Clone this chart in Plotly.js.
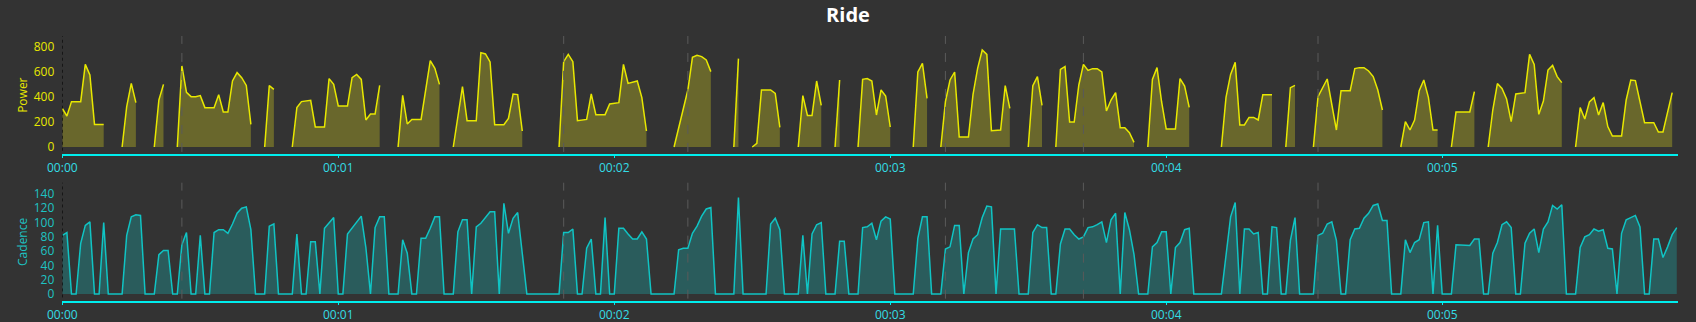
<!DOCTYPE html>
<html>
<head>
<meta charset="utf-8">
<script src="https://cdn.plot.ly/plotly-3.0.1.min.js"></script>
<style>
  html, body { margin: 0; padding: 0; background: #333333; }
  #chart { width: 1696px; height: 322px; }
</style>
</head>
<body>
<div id="chart"></div>
<script>
// ---- Data (time in seconds) ----
// Power: segments separated by null (no data between them)
const powerTime = [
  0,1,2,4,5,6,7,9, null,
  13,14,15,16, null,
  20,21,22, null,
  25,26,27,28,29,30,31,33,34,35,36,37,38,39,40,41, null,
  44,45,46, null,
  50,51,52,53,54,55,57,58,59,60,62,63,64,65,66,67,68,69, null,
  73,74,75,76,78,80,81,82, null,
  85,87,88,90,91,92,93,94,96,97,98,99,100, null,
  108,109,110,111,112,114,115,116,118,119,121,122,123,125,126,127, null,
  133,136,137,138,139,140,141, null,
  146,147, null,
  150,151,152,154,155,156, null,
  160,161,162,163,164,165, null,
  168,169, null,
  173,174,175,176,177,178,179,180, null,
  185,186,187,188, null,
  191,192,193,194,195,197,198,199,200,201,202,204,205,206, null,
  210,211,212,213, null,
  216,217,218,219,220,221,222,223,224,225,226,227,228,229,230,231,232,233, null,
  236,237,238,239,240,242,243,244,245, null,
  252,253,254,255,256,257,258,259,260,261,263, null,
  266,267,268, null,
  272,273,275,277,278,280,281,282,283,284,285,286,287, null,
  291,292,293,294,295,296,297,298,299, null,
  302,303,306,307, null,
  310,311,312,313,314,315,316,318,319,320,321,322,323,324,325,326, null,
  329,330,331,332,333,334,335,336,337,339,340,341,342,344,346,347,348,349,350
];
const powerWatts = [
  309,248,363,363,661,576,181,181, null,
  0,323,509,355, null,
  0,376,501, null,
  0,648,437,403,403,411,315,315,419,280,280,528,595,555,493,181, null,
  0,491,461, null,
  0,315,363,368,373,160,160,547,501,328,328,555,581,541,216,264,264,493, null,
  0,413,184,221,221,691,629,501, null,
  0,483,211,211,755,744,680,179,179,229,424,419,128, null,
  0,683,741,683,211,221,424,259,259,344,355,661,509,528,395,128, null,
  0,456,717,733,723,696,603, null,
  0,707, null,
  0,29,456,456,429,157, null,
  0,411,253,253,528,333, null,
  0,536, null,
  0,541,547,528,256,456,408,160, null,
  0,600,669,389, null,
  0,363,536,600,80,80,421,629,776,741,131,136,491,309, null,
  0,491,563,333, null,
  0,621,643,200,200,496,661,613,627,627,600,288,376,435,155,155,115,37, null,
  0,541,635,360,144,144,547,488,317, null,
  0,397,581,677,176,176,237,237,216,419,419, null,
  0,475,493, null,
  0,403,544,136,451,451,627,635,635,608,563,456,296, null,
  0,203,136,216,451,536,397,136,136, null,
  0,280,280,443, null,
  0,296,507,469,384,203,424,435,741,661,261,368,616,653,563,515, null,
  0,315,224,360,395,256,355,163,88,88,376,536,531,195,195,120,120,277,435
];

// Cadence (continuous)
const cadenceTime = [
  0,1,2,3,4,5,6,7,8,9,10,13,14,15,16,17,18,20,21,22,23,24,25,26,27,28,29,30,31,32,
  33,34,35,36,37,38,39,40,41,42,44,45,46,47,50,51,52,53,54,55,56,57,59,60,61,62,65,66,67,68,
  69,70,71,73,74,75,76,77,78,79,80,81,82,83,85,86,87,88,89,90,91,93,94,95,96,97,98,99,101,108,
  109,110,111,112,113,114,115,116,117,118,119,120,121,122,123,124,125,126,127,128,133,134,135,136,137,138,139,140,141,142,
  146,147,148,153,154,155,156,157,160,161,162,163,164,165,166,168,169,170,171,173,174,175,176,177,178,179,180,181,185,186,
  187,188,189,191,192,193,194,195,196,197,198,199,200,201,202,203,204,205,207,208,210,211,212,213,214,215,216,217,218,219,
  220,221,222,223,224,225,226,227,228,229,230,231,232,233,234,236,237,238,239,240,241,242,243,244,245,246,252,254,255,256,
  257,258,259,260,261,262,263,264,265,266,267,268,269,272,273,274,275,276,277,278,279,280,281,282,283,284,285,286,287,288,
  289,291,292,293,294,295,296,297,298,299,300,302,303,306,307,308,309,310,311,312,313,314,315,316,317,318,319,320,321,322,
  323,324,325,326,327,329,330,331,332,333,334,335,336,337,338,339,340,341,342,343,344,345,346,347,348,349,350,351
];
const cadenceRpm = [
  82,86,0,0,71,96,101,0,0,100,0,0,82,108,111,110,0,0,55,61,61,0,0,69,86,0,0,82,0,0,
  86,90,90,85,98,113,120,122,90,0,0,95,98,0,0,84,0,0,73,73,0,92,107,0,0,84,109,65,0,93,
  108,108,0,0,76,57,0,0,78,78,92,108,108,0,0,87,104,104,0,94,99,115,115,0,127,85,106,114,0,0,
  86,86,91,0,0,64,77,0,0,107,0,0,92,92,84,77,77,87,77,0,0,62,64,64,85,95,109,119,121,0,
  0,135,0,0,98,106,90,0,0,82,0,84,97,100,0,0,74,74,0,0,93,94,99,76,102,108,105,0,0,78,
  108,108,0,0,63,66,96,96,0,58,77,83,107,123,122,0,91,91,91,0,0,86,97,93,93,0,0,70,91,91,
  83,77,80,93,94,97,101,72,104,113,0,114,90,55,0,0,66,72,87,87,0,65,72,90,92,0,0,108,128,0,
  91,91,84,86,0,0,94,93,0,0,75,107,0,0,82,85,98,101,75,0,0,76,91,92,106,113,124,126,103,103,
  0,0,76,58,72,76,100,101,0,96,0,0,69,68,77,77,0,0,57,72,97,101,93,0,0,71,85,91,58,91,
  101,124,119,125,0,0,65,80,83,91,88,90,64,63,0,85,104,107,110,94,0,0,77,77,51,66,83,93
];

// Lap markers (seconds)
const lapTimes = [26, 109, 136, 192, 222, 273];

// X tick labels
const xTickVals = [0, 60, 120, 180, 240, 300];
const xTickText = ['00:00', '00:01', '00:02', '00:03', '00:04', '00:05'];

// ---- Build fill polygon for power (drops to zero at the end of each segment) ----
const powerFillX = [], powerFillY = [];
for (let i = 0; i < powerWatts.length; i++) {
  if (powerWatts[i] === null) {
    powerFillX.push(powerTime[i - 1]); powerFillY.push(0);
  } else {
    powerFillX.push(powerTime[i]); powerFillY.push(powerWatts[i]);
  }
}

const FONT = '"Open Sans", "Liberation Sans", sans-serif';
const BG = '#333333';
const AXIS_CYAN = '#00eeee';
const TICK_CYAN = '#33dde6';
const YELLOW = '#e8e800';
const TEAL_TXT = '#1ec3c3';

const traces = [
  { x: powerFillX, y: powerFillY, type: 'scatter', mode: 'lines',
    line: { width: 0, color: 'rgba(0,0,0,0)' }, fill: 'tozeroy', fillcolor: '#69672c',
    xaxis: 'x', yaxis: 'y', hoverinfo: 'skip', showlegend: false },
  { x: powerTime, y: powerWatts, type: 'scatter', mode: 'lines',
    line: { width: 1.5, color: YELLOW }, connectgaps: false,
    xaxis: 'x', yaxis: 'y', showlegend: false },
  { x: cadenceTime, y: cadenceRpm, type: 'scatter', mode: 'lines',
    line: { width: 1.5, color: '#10c4c4' }, fill: 'tozeroy', fillcolor: '#2a5c5c',
    xaxis: 'x2', yaxis: 'y2', showlegend: false }
];

const xDomain = [62.3 / 1696, 1677.7 / 1696];
const pDomain = [1 - 154.3 / 322, 1 - 36 / 322];
const cDomain = [1 - 301 / 322, 1 - 182.7 / 322];
const xRange = [0, 351.2];

const shapes = [];
// y axis dotted lines
['y', 'y2'].forEach((ya, k) => {
  shapes.push({ type: 'line', xref: k ? 'x2' : 'x', yref: ya + ' domain',
    x0: 0, x1: 0, y0: 0.03, y1: 1, line: { color: '#000000', width: 1, dash: 'dot' } });
});
// lap markers
lapTimes.forEach(t => {
  ['y', 'y2'].forEach((ya, k) => {
    shapes.push({ type: 'line', xref: k ? 'x2' : 'x', yref: ya + ' domain',
      x0: t, x1: t, y0: 0.02, y1: 1, line: { color: '#5a5a5a', width: 1, dash: 'dash' } });
  });
});

const xCommon = {
  domain: xDomain, range: xRange, showgrid: false, zeroline: false,
  showline: true, linecolor: AXIS_CYAN, linewidth: 1.5,
  ticks: 'outside', ticklen: 2, tickcolor: AXIS_CYAN, tickwidth: 1,
  tickvals: xTickVals, ticktext: xTickText,
  tickfont: { family: FONT, size: 12, color: TICK_CYAN }, ticklabelstandoff: 0
};

const layout = {
  width: 1696, height: 322,
  paper_bgcolor: BG, plot_bgcolor: BG,
  margin: { l: 0, r: 0, t: 0, b: 0, pad: 0 },
  title: { text: '<b>Ride</b>', font: { family: FONT, size: 20, color: '#ffffff' },
    x: 0.5, xanchor: 'center', y: 1 - 15 / 322, yanchor: 'middle' },
  hovermode: false,
  xaxis: Object.assign({}, xCommon, { anchor: 'y' }),
  xaxis2: Object.assign({}, xCommon, { anchor: 'y2', matches: 'x' }),
  yaxis: {
    domain: pDomain, range: [-58.4, 888], showgrid: false, zeroline: false, showline: false,
    tickvals: [0, 200, 400, 600, 800], ticks: '', ticklabelstandoff: 7,
    tickfont: { family: FONT, size: 12, color: YELLOW },
    title: { text: 'Power', font: { family: FONT, size: 12, color: YELLOW }, standoff: 3 }
  },
  yaxis2: {
    domain: cDomain, range: [-9.8, 155.8], showgrid: false, zeroline: false, showline: false,
    tickvals: [0, 20, 40, 60, 80, 100, 120, 140], ticks: '', ticklabelstandoff: 7,
    tickfont: { family: FONT, size: 12, color: TEAL_TXT },
    title: { text: 'Cadence', font: { family: FONT, size: 12, color: TEAL_TXT }, standoff: 3 }
  },
  shapes: shapes
};

Plotly.newPlot('chart', traces, layout, { displayModeBar: false, staticPlot: true });
</script>
</body>
</html>
